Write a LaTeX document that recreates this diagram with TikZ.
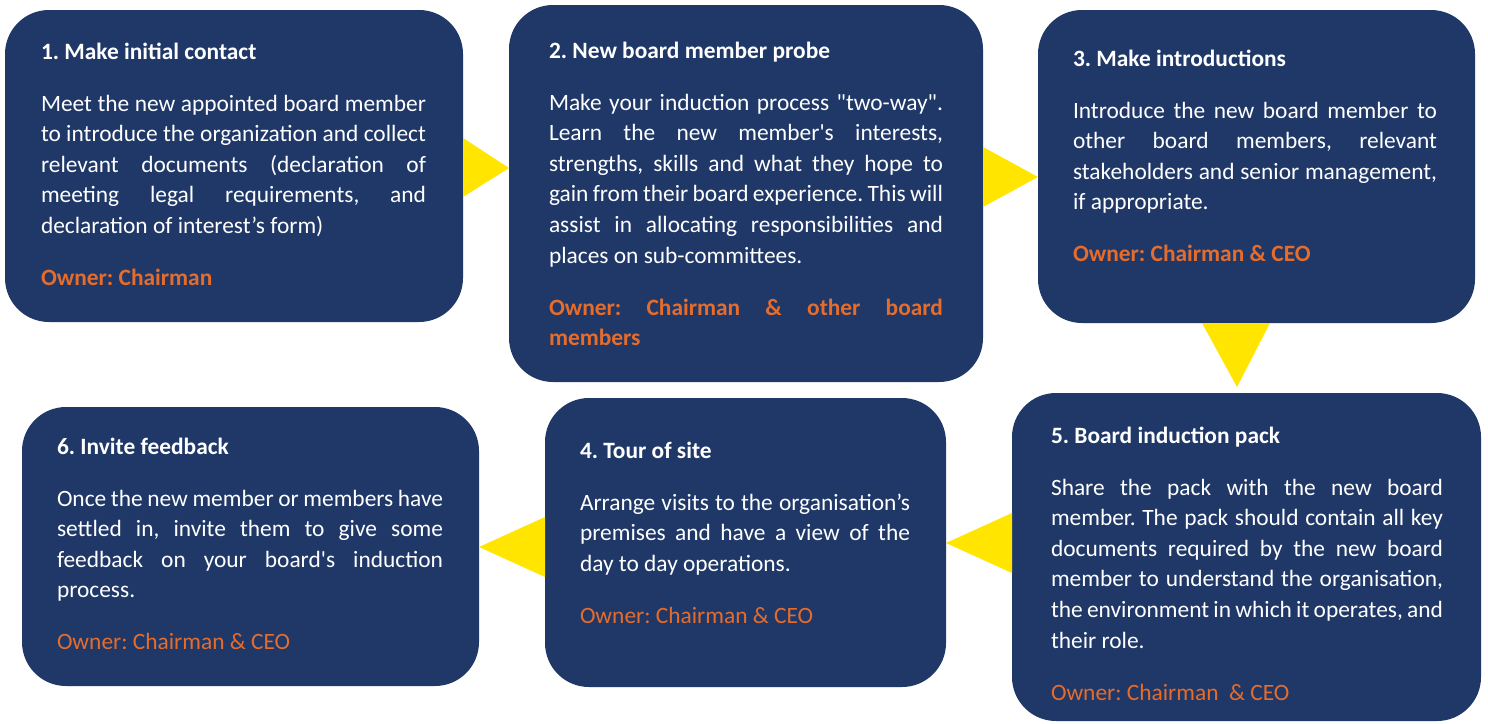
\documentclass[tikz,border=0pt]{standalone}
\usepackage{fontspec}
\setmainfont{Carlito}
\usetikzlibrary{calc}

\definecolor{cardnavy}{RGB}{31,56,104}
\definecolor{ownerorange}{RGB}{230,108,44}
\definecolor{flowyellow}{RGB}{255,229,0}

% paragraph settings shared by every card: fixed line pitch, forced line ends
\newcommand\cardsetup{%
  \frenchspacing
  \setlength{\parskip}{21.4pt}%
  \tolerance=10000 \hyphenpenalty=10000 \hbadness=10000 \emergencystretch=0pt}
\newcommand\ownerbf[1]{{\color{ownerorange}\bfseries #1}}
\newcommand\ownerrm[1]{{\color{ownerorange}#1}}

\tikzset{
  stepcard/.style={rectangle, rounded corners=44pt, fill=cardnavy, draw=none,
    anchor=north west, inner sep=0pt, outer sep=0pt},
  cardtext/.style={anchor=north west, inner sep=0pt, outer sep=0pt, text=white,
    align=justify, font=\fontsize{23.4}{30.6}\selectfont},
  pointer/.style={fill=flowyellow, draw=none}
}

\begin{document}
\begin{tikzpicture}[x=1pt, y=-1pt]
\useasboundingbox[fill=white] (0,0) rectangle (1488,723);

% cards
\node[stepcard, minimum width=458pt, minimum height=312pt] (b1) at (5,10) {};
\node[stepcard, minimum width=474pt, minimum height=377pt] (b2) at (509,5) {};
\node[stepcard, minimum width=437pt, minimum height=313pt] (b3) at (1038,10) {};
\node[stepcard, minimum width=401pt, minimum height=289pt] (b4) at (545,398) {};
\node[stepcard, minimum width=469pt, minimum height=328pt] (b5) at (1012,393) {};
\node[stepcard, minimum width=457pt, minimum height=279pt] (b6) at (22,407) {};

% pointers between consecutive steps
\fill[pointer] (b1.east |- 0,138) -- (b2.west |- 0,168) -- (b1.east |- 0,197) -- cycle;
\fill[pointer] (b2.east |- 0,147) -- (b3.west |- 0,177) -- (b2.east |- 0,207) -- cycle;
\fill[pointer] (b3.south -| 1202,0) -- ($(b5.north -| 1237,0)+(0,-6)$) -- (b3.south -| 1270,0) -- cycle;
\fill[pointer] (b5.west |- 0,513) -- (b4.east |- 0,543) -- (b5.west |- 0,573) -- cycle;
\fill[pointer] (b4.west |- 0,517) -- (b6.east |- 0,547) -- (b4.west |- 0,577) -- cycle;

% card texts
\node[cardtext, text width=385pt] (t1) at (41,37.6) {\cardsetup
\strut\textbf{1. Make initial contact}\par
Meet the new appointed board member\linebreak
to introduce the organization and collect\linebreak
relevant documents (declaration of\linebreak
meeting legal requirements, and\linebreak
declaration of interest’s form)\par
\ownerbf{Owner: Chairman}};

\node[cardtext, text width=394pt] (t2) at (549,36.6) {\cardsetup
\strut\textbf{2. New board member probe}\par
Make your induction process \textquotedbl two-way\textquotedbl.\linebreak
Learn the new member\textquotesingle s interests,\linebreak
strengths, skills and what they hope to\linebreak
gain from their board experience. This will\linebreak
assist in allocating responsibilities and\linebreak
places on sub-committees.\par
\ownerbf{Owner: Chairman \& other board\linebreak members}};

\node[cardtext, text width=364pt] (t3) at (1073,44.6) {\cardsetup
\strut\textbf{3. Make introductions}\par
Introduce the new board member to\linebreak
other board members, relevant\linebreak
stakeholders and senior management,\linebreak
if appropriate.\par
\ownerbf{Owner: Chairman \& CEO}};

\node[cardtext, text width=330pt] (t4) at (580,436.6) {\cardsetup
\strut\textbf{4. Tour of site}\par
Arrange visits to the organisation’s\linebreak
premises and have a view of the\linebreak
day to day operations.\par
\ownerrm{Owner: Chairman \& CEO}};

\node[cardtext, text width=392pt] (t5) at (1051,421.6) {\cardsetup
\strut\textbf{5. Board induction pack}\par
Share the pack with the new board\linebreak
member. The pack should contain all key\linebreak
documents required by the new board\linebreak
member to understand the organisation,\linebreak
the environment in which it operates, and\linebreak
their role.\par
\ownerrm{Owner: Chairman~ \& CEO}};

\node[cardtext, text width=386pt] (t6) at (57,432.6) {\cardsetup
\strut\textbf{6. Invite feedback}\par
Once the new member or members have\linebreak
settled in, invite them to give some\linebreak
feedback on your board\textquotesingle s induction\linebreak
process.\par
\ownerrm{Owner: Chairman \& CEO}};
\end{tikzpicture}
\end{document}
